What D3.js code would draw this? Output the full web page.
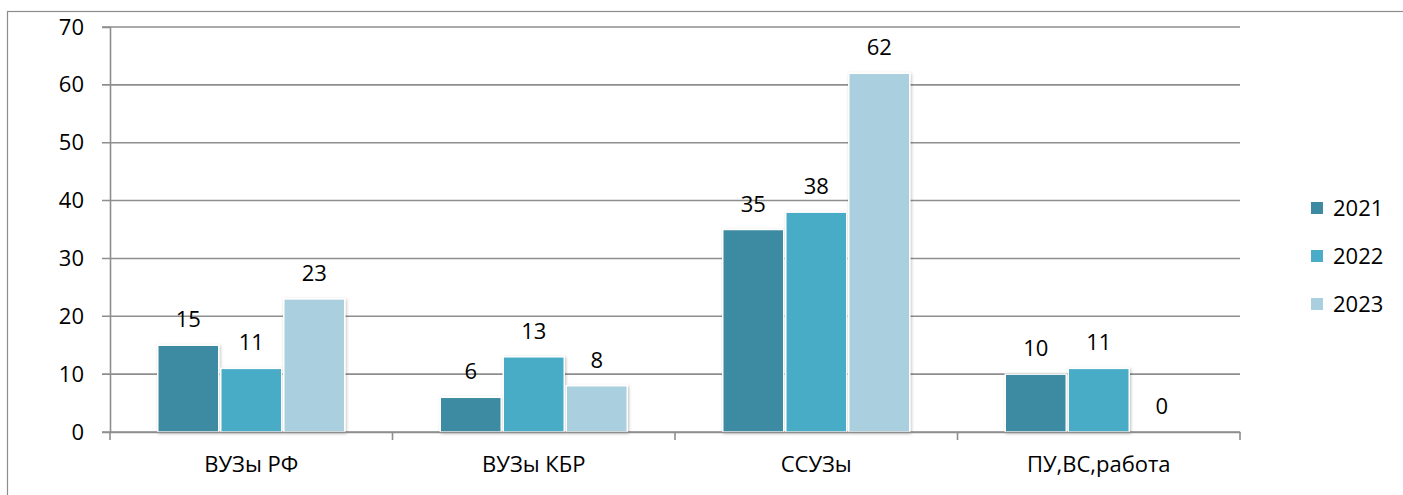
<!DOCTYPE html>
<html>
<head>
<meta charset="utf-8">
<script src="https://cdn.jsdelivr.net/npm/d3@7"></script>
<style>
  body { margin: 0; background: #fff; }
  svg { display: block; font-family: "Open Sans", sans-serif; }
</style>
</head>
<body>
<div id="chart"></div>
<script>
const categories = ['ВУЗы РФ', 'ВУЗы КБР', 'ССУЗы', 'ПУ,ВС,работа']
const series = ['2021', '2022', '2023']
const values2021 = [15, 6, 35, 10]
const values2022 = [11, 13, 38, 11]
const values2023 = [23, 8, 62, 0]
const yTicks = [0, 10, 20, 30, 40, 50, 60, 70]
const colors = ['#3d8ba3', '#4aacc6', '#aacfde']

const width = 1403
const height = 495
const margin = { left: 110, right: 163, top: 27, bottom: 63 }

const rows = [values2021, values2022, values2023]
const data = categories.map((c, i) => ({
  cat: c,
  vals: series.map((s, j) => ({ s, v: rows[j][i], color: colors[j] }))
}))

const svg = d3.select('#chart').append('svg')
  .attr('width', width)
  .attr('height', height)

const defs = svg.append('defs')
const shadow = defs.append('filter').attr('id', 'shadow')
  .attr('x', '-20%').attr('y', '-20%').attr('width', '140%').attr('height', '140%')
shadow.append('feDropShadow')
  .attr('dx', 1).attr('dy', 1).attr('stdDeviation', 1.5)
  .attr('flood-color', '#000').attr('flood-opacity', 0.25)

// outer frame (runs off the right and bottom edges)
svg.append('rect')
  .attr('x', 7.5).attr('y', 11.5)
  .attr('width', width).attr('height', height)
  .attr('fill', 'none').attr('stroke', '#8c8c8c').attr('stroke-width', 1.2)

const x0 = d3.scaleBand()
  .domain(categories)
  .range([margin.left, width - margin.right])

const c = x0.bandwidth() / 2
const x1 = d3.scaleBand()
  .domain(series)
  .range([c - 93.5, c + 93.5])
  .paddingInner(2 / 63)

const y = d3.scaleLinear()
  .domain([0, 70])
  .range([height - margin.bottom, margin.top])

// gridlines
svg.append('g')
  .selectAll('line')
  .data(yTicks)
  .join('line')
    .attr('x1', margin.left - 8)
    .attr('x2', width - margin.right)
    .attr('y1', d => y(d))
    .attr('y2', d => y(d))
    .attr('stroke', '#8e8e8e')
    .attr('stroke-width', 1.6)

// y axis
const yAxis = svg.append('g')
  .attr('transform', `translate(${margin.left},0)`)
  .call(d3.axisLeft(y).tickValues(yTicks).tickSize(8).tickPadding(18))
yAxis.select('.domain').attr('stroke', '#8e8e8e').attr('stroke-width', 1.6)
yAxis.selectAll('.tick line').remove()
yAxis.selectAll('text')
  .attr('font-size', 22)
  .attr('fill', '#000')
  .attr('font-family', '"Open Sans", sans-serif')

// bars
const groups = svg.append('g')
  .selectAll('g')
  .data(data)
  .join('g')
    .attr('transform', d => `translate(${x0(d.cat)},0)`)

groups.selectAll('rect')
  .data(d => d.vals.filter(v => v.v > 0))
  .join('rect')
    .attr('x', d => x1(d.s))
    .attr('y', d => y(d.v))
    .attr('width', x1.bandwidth())
    .attr('height', d => y(0) - y(d.v))
    .attr('fill', d => d.color)
    .attr('stroke', '#fff')
    .attr('stroke-width', 1.5)
    .attr('filter', 'url(#shadow)')

groups.selectAll('text')
  .data(d => d.vals)
  .join('text')
    .attr('x', d => x1(d.s) + x1.bandwidth() / 2)
    .attr('y', d => y(d.v) - 18)
    .attr('text-anchor', 'middle')
    .attr('font-size', 22)
    .attr('fill', '#000')
    .text(d => d.v)

// x axis
const xAxis = svg.append('g')
  .attr('transform', `translate(0,${y(0)})`)
  .call(d3.axisBottom(x0).tickSize(0).tickPadding(24))
xAxis.select('.domain').attr('stroke', '#8e8e8e').attr('stroke-width', 1.6)
xAxis.selectAll('text')
  .attr('font-size', 22)
  .attr('fill', '#000')
  .attr('font-family', '"Open Sans", sans-serif')

// category boundary ticks
const bounds = [margin.left, ...categories.map(cat => x0(cat) + x0.bandwidth())]
svg.append('g')
  .selectAll('line')
  .data(bounds)
  .join('line')
    .attr('x1', d => d).attr('x2', d => d)
    .attr('y1', y(0)).attr('y2', y(0) + 8)
    .attr('stroke', '#8e8e8e')
    .attr('stroke-width', 1.6)

// legend
const legend = svg.append('g')
  .attr('transform', 'translate(1311,202)')
const item = legend.selectAll('g')
  .data(series)
  .join('g')
    .attr('transform', (d, i) => `translate(0,${i * 48})`)
item.append('rect')
  .attr('width', 12).attr('height', 12)
  .attr('fill', (d, i) => colors[i])
item.append('text')
  .attr('x', 22).attr('y', 6)
  .attr('dy', '0.35em')
  .attr('font-size', 22)
  .attr('fill', '#000')
  .text(d => d)
</script>
</body>
</html>
